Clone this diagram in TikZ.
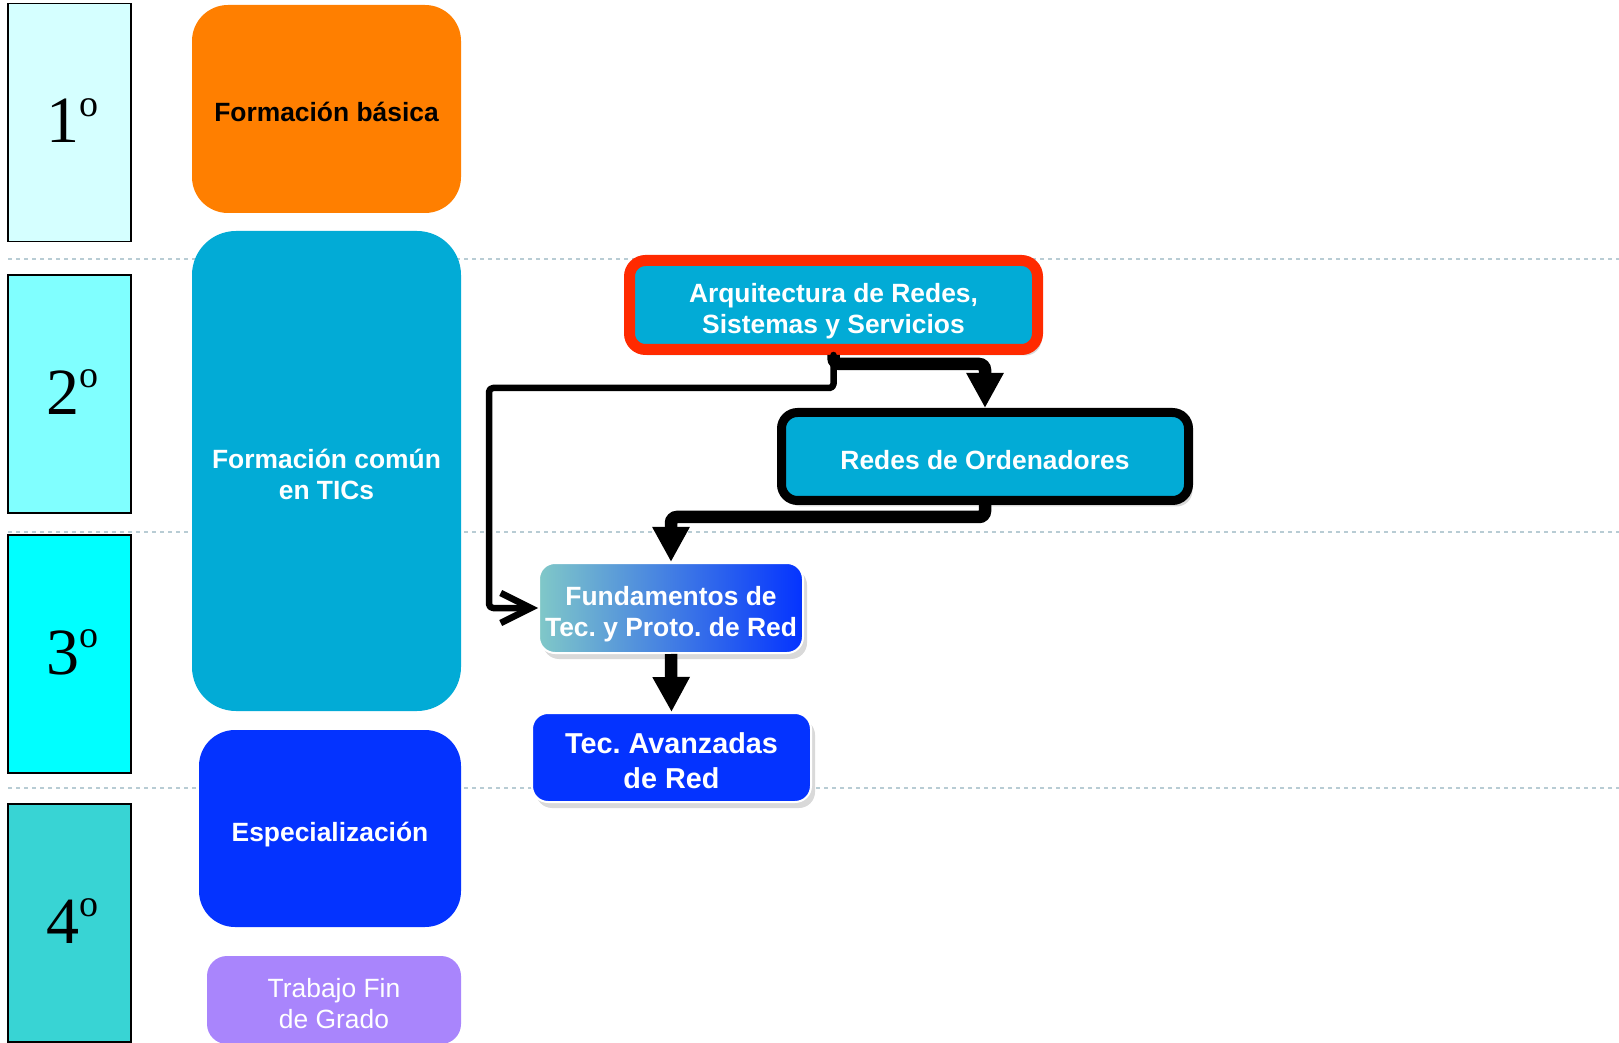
\documentclass[tikz,border=0pt]{standalone}
\usepackage{fontspec}
\setmainfont{Liberation Sans}
\newfontfamily\yearfont{Liberation Serif}
\usepackage{xcolor}
\definecolor{yearone}{HTML}{D5FFFF}
\definecolor{yeartwo}{HTML}{80FFFF}
\definecolor{yearthree}{HTML}{00FFFF}
\definecolor{yearfour}{HTML}{38D4D4}
\definecolor{basic}{HTML}{FF7F00}
\definecolor{tic}{HTML}{02ABD6}
\definecolor{deepblue}{HTML}{0433FF}
\definecolor{lavender}{HTML}{A985FC}
\definecolor{redframe}{HTML}{FF2A00}
\definecolor{tealgrad}{HTML}{80C8C8}
\definecolor{sepline}{HTML}{B8CCD4}
\usetikzlibrary{arrows.meta, calc, shadows}

\newcommand{\yearnum}[1]{{\yearfont\fontsize{33}{33}\selectfont\hspace{2.5pt}#1\raisebox{13.4pt}{\fontsize{19}{19}\selectfont o}\rule[-2pt]{0pt}{0pt}}}
% fixed line box, as in the slide
\newcommand{\topline}{\rule{0pt}{1.174em}}
\newcommand{\botline}{\rule[-0.212em]{0pt}{0pt}}

\begin{document}
\frenchspacing
\begin{tikzpicture}[x=0.5pt, y=-0.5pt,
  yearbox/.style={draw, line width=0.8pt, minimum width=61.5pt, minimum height=119pt, inner sep=0pt},
  block/.style={rounded corners=18pt, inner sep=0pt, align=center, text=white,
    font=\bfseries\fontsize{13.2}{15.5}\selectfont},
  course/.style={rounded corners=8pt, inner sep=0pt, align=center, text=white,
    font=\bfseries\fontsize{13.2}{15.5}\selectfont,
    drop shadow={shadow xshift=2pt, shadow yshift=-3pt, opacity=0.3}},
  flow/.style={line width=6.25pt, rounded corners=3pt, -{Triangle[width=17.5pt, length=17.5pt]}},
  link/.style={line width=3.25pt, line cap=round, line join=round, rounded corners=2pt,
    -{Straight Barb[width=15pt, length=15pt]}}]
  \useasboundingbox (0,0) rectangle (1619,1043);

  % Year separators
  \foreach \y in {259,532,788}
    \draw[sepline, dash pattern=on 2pt off 2pt, line width=0.7pt] (8,\y) -- (1619,\y);

  % Years
  \node[yearbox, fill=yearone]   (y1) at (69.5,122.5) {\yearnum{1}};
  \node[yearbox, fill=yeartwo]   (y2) at (69.5,394)   {\yearnum{2}};
  \node[yearbox, fill=yearthree] (y3) at (69.5,654)   {\yearnum{3}};
  \node[yearbox, fill=yearfour]  (y4) at (69.5,923)   {\yearnum{4}};

  % Study blocks
  \node[block, fill=basic, text=black, minimum width=134.5pt, minimum height=104pt] (basica) at (326.5,109) {\topline Formación básica\botline};
  \node[block, fill=tic, rounded corners=22pt, minimum width=134.5pt, minimum height=240pt] (comun) at (326.5,471) {\topline Formación común\\en TICs\botline};
  \node[block, fill=deepblue, minimum width=131pt, minimum height=98.5pt] (espec) at (330,828.5) {\topline Especialización\botline};
  \node[block, fill=lavender, rounded corners=10pt, font=\fontsize{13.2}{15.5}\selectfont, minimum width=127pt, minimum height=44pt] (tfg) at (334,1000) {\topline Trabajo Fin\\de Grado\botline};

  % Network courses
  \node[course, fill=tic, draw=redframe, line width=5.5pt, minimum width=204pt, minimum height=44.5pt] (arq) at (833.5,305) {\topline Arquitectura de Redes,\\Sistemas y Servicios\botline};
  \node[course, fill=tic, draw=black, line width=4.5pt, minimum width=203.5pt, minimum height=44pt] (redes) at (985,456.5) {\topline Redes de Ordenadores\botline};
  \node[course, left color=tealgrad, right color=deepblue, draw=white, line width=1pt, minimum width=132pt, minimum height=45pt] (fund) at (671,608) {\topline Fundamentos de\\Tec. y Proto. de Red\botline};
  \node[course, fill=deepblue, draw=white, line width=1pt, font=\bfseries\fontsize{14.4}{17.5}\selectfont, minimum width=139.5pt, minimum height=44.5pt] (avanz) at (671.5,757.5) {\topline Tec. Avanzadas\\de Red\botline};

  % Prerequisites
  \draw[link] (arq.south) -- ++(0,33) -| ($(fund.west)+(-49,0)$) -- (fund.west);
  \draw[flow] (arq.south) -- ++(0,9) -| (redes.north);
  \draw[flow] (redes.south) -- ++(0,12) -| (fund.north);
  \draw[flow] (fund.south) -- (avanz.north);
\end{tikzpicture}
\end{document}
